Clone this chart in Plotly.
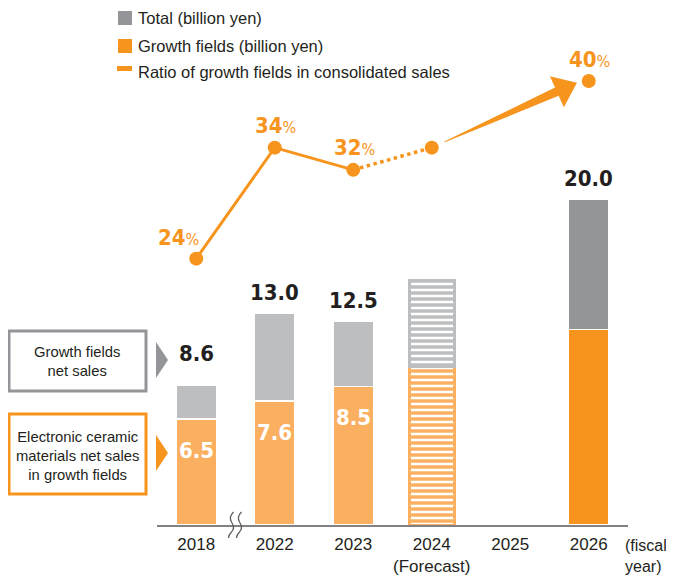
import plotly.graph_objects as go

# data
years = ["2018", "2022", "2023", "2024", "2025", "2026"]
tick_labels = ["2018", "2022", "2023", "2024<br>(Forecast)", "2025", "2026"]
total = [8.6, 13.0, 12.5, 15.0, None, 20.0]
growth = [6.5, 7.6, 8.5, 9.7, None, 12.0]
ratio = [24, 34, 32, 34, None, 40]
total_labels = ["8.6", "13.0", "12.5", "", "", "20.0"]
growth_labels = ["6.5", "7.6", "8.5", "", "", ""]
ratio_labels = ["24", "34", "32", "", "", "40"]

ORANGE = "#f7941d"
ORANGE_LT = "#fbb061"
GRAY = "#939598"
GRAY_LT = "#bcbec0"
DARK = "#231f20"
TXT = "Liberation Sans, Arial, sans-serif"
NUM = "DejaVu Sans Condensed, DejaVu Sans, sans-serif"

# page body has an 8px margin, so the figure sits at (8, 8)
OFF = 8
W, H = 674 - 2 * OFF, 576 - OFF
# plot area in page pixels
X0, X1, Y0, Y1 = 157, 628, 20, 525
L, R, T, B = X0 - OFF, W - (X1 - OFF), Y0 - OFF, H - (Y1 - OFF)
PW, PH = X1 - X0, Y1 - Y0


def px(x):
    return (x - X0) / PW


def py(y):
    return (Y1 - y) / PH


rest = [t - g if t is not None else None for t, g in zip(total, growth)]
forecast = [y == "2024" for y in years]
lt = [y != "2026" for y in years]

growth_colors = [ORANGE_LT if f else ORANGE for f in lt]
rest_colors = [GRAY_LT if f else GRAY for f in lt]
shapes_pat = ["-" if f else "" for f in forecast]
widths = [0.57 if f else 0.51 for f in forecast]

fig = go.Figure()

for vals, cols in ((growth, growth_colors), (rest, rest_colors)):
    fig.add_trace(go.Bar(
        x=years, y=vals, width=widths,
        marker=dict(
            color=cols,
            line=dict(color=[c if f else "white" for c, f in zip(cols, forecast)],
                      width=[3 if f else 1.5 for f in forecast]),
            pattern=dict(shape=shapes_pat, fillmode="replace",
                         size=6, solidity=0.58),
        ),
        hoverinfo="skip", showlegend=False,
    ))

# ratio line: solid up to 2023, dotted to 2024 forecast
fig.add_trace(go.Scatter(
    x=years[:3], y=ratio[:3], yaxis="y2", mode="lines+markers",
    line=dict(color=ORANGE, width=3), marker=dict(size=14, color=ORANGE),
    showlegend=False, hoverinfo="skip",
))
fig.add_trace(go.Scatter(
    x=years[2:4], y=ratio[2:4], yaxis="y2", mode="lines",
    line=dict(color=ORANGE, width=3.5, dash="dot"),
    showlegend=False, hoverinfo="skip",
))
fig.add_trace(go.Scatter(
    x=[years[3], years[5]], y=[ratio[3], ratio[5]], yaxis="y2", mode="markers",
    marker=dict(size=14, color=ORANGE),
    showlegend=False, hoverinfo="skip",
))

ann = []
for i, yr in enumerate(years):
    if total_labels[i]:
        ann.append(dict(x=i, y=total[i], xref="x", yref="y",
                        text="<b>%s</b>" % total_labels[i],
                        showarrow=False, yanchor="middle",
                        yshift=31 if yr == "2018" else 21,
                        font=dict(family=NUM, size=22, color=DARK)))
    if growth_labels[i]:
        ann.append(dict(x=i, y=growth[i], xref="x", yref="y",
                        text="<b>%s</b>" % growth_labels[i],
                        showarrow=False, yanchor="middle", yshift=-31,
                        font=dict(family=NUM, size=22, color="white")))
    if ratio_labels[i]:
        ann.append(dict(x=i, y=ratio[i], xref="x", yref="y2",
                        text="<b>%s</b><span style='font-size:16px'>%%</span>" % ratio_labels[i],
                        showarrow=False, yanchor="middle",
                        xshift=-18 if yr == "2018" else 1,
                        yshift=21 if yr == "2018" else 22,
                        font=dict(family=NUM, size=22, color=ORANGE)))

ann.append(dict(xref="paper", yref="paper", x=px(623), y=py(535),
                xanchor="left", yanchor="top", align="left",
                text="(fiscal<br>year)", showarrow=False,
                font=dict(family=TXT, size=16, color=DARK)))

# legend drawn by hand
legend_items = ["Total (billion yen)", "Growth fields (billion yen)",
                "Ratio of growth fields in consolidated sales"]
legend_y = [18, 46, 72]
for t, yy in zip(legend_items, legend_y):
    ann.append(dict(xref="paper", yref="paper", x=px(136), y=py(yy),
                    xanchor="left", yanchor="middle", text=t, showarrow=False,
                    font=dict(family=TXT, size=16.5, color=DARK)))

# annotation boxes on the left
ann.append(dict(xref="paper", yref="paper", x=px(77), y=py(362),
                xanchor="center", yanchor="middle", showarrow=False,
                text="Growth fields<br>net sales",
                font=dict(family=TXT, size=14.8, color=DARK)))
ann.append(dict(xref="paper", yref="paper", x=px(77), y=py(456),
                xanchor="center", yanchor="middle", showarrow=False,
                text="Electronic ceramic<br>materials net sales<br>in growth fields",
                font=dict(family=TXT, size=14.8, color=DARK)))

shapes = [
    dict(type="rect", xref="paper", yref="paper", x0=px(118), x1=px(132),
         y0=py(25), y1=py(11), fillcolor=GRAY, line_width=0),
    dict(type="rect", xref="paper", yref="paper", x0=px(118), x1=px(132),
         y0=py(53), y1=py(39), fillcolor=ORANGE, line_width=0),
    dict(type="rect", xref="paper", yref="paper", x0=px(117), x1=px(132),
         y0=py(71), y1=py(66), fillcolor=ORANGE, line_width=0),
    dict(type="rect", xref="paper", yref="paper", x0=px(9), x1=px(146),
         y0=py(391), y1=py(331), line=dict(color=GRAY, width=3)),
    dict(type="rect", xref="paper", yref="paper", x0=px(9), x1=px(146),
         y0=py(494), y1=py(414), line=dict(color=ORANGE, width=3)),
    dict(type="path", xref="paper", yref="paper",
         path="M %f,%f L %f,%f L %f,%f Z" % (px(156), py(342), px(168), py(360), px(156), py(378)),
         fillcolor=GRAY, line_width=0),
    dict(type="path", xref="paper", yref="paper",
         path="M %f,%f L %f,%f L %f,%f Z" % (px(156), py(435), px(168), py(453), px(156), py(471)),
         fillcolor=ORANGE, line_width=0),
]

# axis break marks between 2018 and 2022
for dx in (-4, 4):
    shapes.append(dict(
        type="path", xref="x", yref="paper", xsizemode="pixel", ysizemode="pixel",
        xanchor=0.5, yanchor=0,
        path="M %d,13 Q %d,8 %d,3 Q %d,-3 %d,-7 Q %d,-10 %d,-13"
             % (dx + 2, dx - 3, dx, dx + 4, dx, dx - 3, dx - 3),
        line=dict(color="#58595b", width=1.2)))

# tapered forecast arrow 2024 -> 2026 (pixel offsets from the 2024 point)
arrow = [(13.0, 5.3), (126.9, 51.9), (132.1, 40.5), (145.2, 65.0),
         (118.1, 71.5), (123.3, 60.1), (12.6, 6.2)]
shapes.append(dict(
    type="path", xref="x", yref="y2", xsizemode="pixel", ysizemode="pixel",
    xanchor=3, yanchor=ratio[3],
    path="M " + " L ".join("%.1f,%.1f" % p for p in arrow) + " Z",
    fillcolor=ORANGE, line_width=0))

hidden = dict(showgrid=False, showline=False, zeroline=False,
              showticklabels=False, ticks="")

fig.update_layout(
    width=W, height=H,
    margin=dict(l=L, r=R, t=T, b=B, autoexpand=False),
    plot_bgcolor="white", paper_bgcolor="white",
    barmode="stack",
    xaxis=dict(type="category", categoryorder="array", categoryarray=years,
               tickvals=years, ticktext=tick_labels, range=[-0.5, 5.5],
               showline=True, linecolor="#808285", linewidth=1.5,
               showgrid=False, ticks="", ticklabelstandoff=3, automargin=False,
               tickfont=dict(family=TXT, size=17, color=DARK)),
    yaxis=dict(range=[0, 31], automargin=False, **hidden),
    yaxis2=dict(range=[0, 45.5], overlaying="y", automargin=False, **hidden),
    annotations=ann, shapes=shapes,
    font=dict(family=TXT),
)

fig.write_html("out.html")
